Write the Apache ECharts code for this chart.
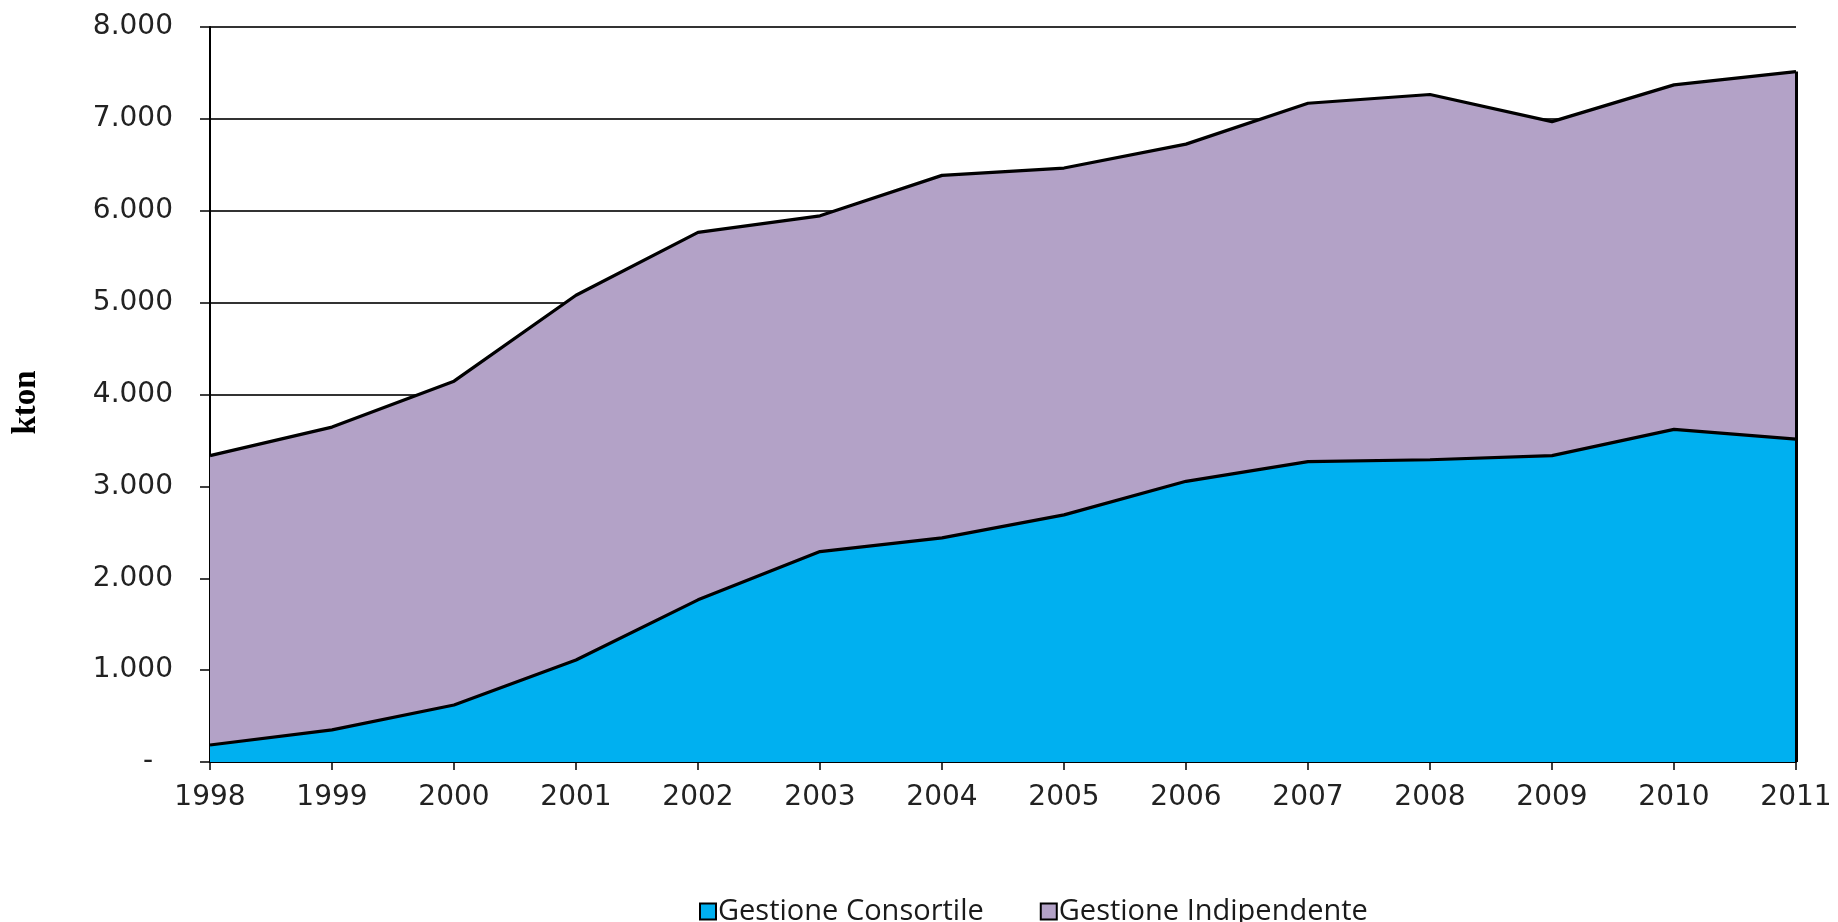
<!DOCTYPE html>
<html>
<head>
<meta charset="utf-8">
<title>Gestione Consortile / Gestione Indipendente</title>
<script src="https://cdn.jsdelivr.net/npm/echarts@6/dist/echarts.min.js"></script>
<style>
  html, body { margin: 0; padding: 0; background: #ffffff; }
  #chart { width: 1838px; height: 922px; }
</style>
</head>
<body>
<div id="chart"></div>
<script>
// Years on the horizontal axis
const years = ['1998', '1999', '2000', '2001', '2002', '2003', '2004', '2005', '2006', '2007', '2008', '2009', '2010', '2011'];

// Quantities in kton, stacked
const consortile = [185, 350, 620, 1110, 1765, 2290, 2440, 2690, 3055, 3270, 3290, 3335, 3620, 3515];
const indipendente = [3150, 3295, 3525, 3970, 4000, 3655, 3945, 3775, 3670, 3900, 3975, 3635, 3750, 4000];

const seriesNames = ['Gestione Consortile', 'Gestione Indipendente'];
const axisName = 'kton';

// Value axis scale
const yMin = 0;
const yMax = 8000;
const yStep = 1000;

// Thousands separated by a dot, zero shown as an indented dash
function fmtThousands(v) {
  if (v === 0) return '{dash|-}';
  return String(v).replace(/\B(?=(\d{3})+(?!\d))/g, '.');
}

const lastIdx = years.length - 1;
const lastTotal = consortile[lastIdx] + indipendente[lastIdx];

const chart = echarts.init(document.getElementById('chart'), null, { renderer: 'canvas' });

chart.setOption({
  animation: false,
  backgroundColor: '#ffffff',
  grid: { left: 210, right: 42, top: 27, bottom: 160, containLabel: false, outerBoundsMode: 'none' },
  legend: {
    data: seriesNames,
    left: 694,
    top: 892,
    itemWidth: 16,
    itemHeight: 16,
    itemGap: 56,
    icon: 'rect',
    textStyle: { fontFamily: 'Open Sans', fontSize: 29, color: '#1a1a1a', padding: [0, 0, 0, -3] }
  },
  xAxis: {
    type: 'category',
    data: years,
    boundaryGap: false,
    axisLine: { show: true, lineStyle: { color: '#000000', width: 2 } },
    axisTick: { show: true, length: 8, lineStyle: { color: '#000000', width: 1.5 } },
    axisLabel: { fontFamily: 'DejaVu Sans', fontSize: 28, color: '#222222', margin: 22 },
    splitLine: { show: false }
  },
  yAxis: {
    type: 'value',
    min: yMin,
    max: yMax,
    interval: yStep,
    name: axisName,
    nameLocation: 'middle',
    nameGap: 167,
    nameRotate: 90,
    nameTextStyle: { fontFamily: 'Liberation Serif', fontWeight: 'bold', fontSize: 33, color: '#000000', padding: [0, 16, 0, 0] },
    axisLine: { show: true, lineStyle: { color: '#000000', width: 2 } },
    axisTick: { show: true, length: 10, lineStyle: { color: '#000000', width: 1.5 } },
    axisLabel: {
      fontFamily: 'DejaVu Sans', fontSize: 28, color: '#222222', margin: 37, formatter: fmtThousands,
      rich: { dash: { fontFamily: 'DejaVu Sans', fontSize: 28, color: '#222222', padding: [0, 20, 0, 0] } }
    },
    splitLine: { show: true, lineStyle: { color: '#333333', width: 2 } }
  },
  series: [
    {
      name: seriesNames[0],
      type: 'line',
      stack: 'totale',
      data: consortile,
      symbol: 'none',
      lineStyle: { color: '#000000', width: 3.2 },
      itemStyle: { color: '#00B0F0', borderColor: '#000000', borderWidth: 2 },
      areaStyle: { color: '#00B0F0', opacity: 1 },
      z: 3
    },
    {
      name: seriesNames[1],
      type: 'line',
      stack: 'totale',
      data: indipendente,
      symbol: 'none',
      lineStyle: { color: '#000000', width: 3.2 },
      itemStyle: { color: '#B3A2C7', borderColor: '#000000', borderWidth: 2 },
      areaStyle: { color: '#B3A2C7', opacity: 1 },
      z: 2,
      // Closing edge of the stacked area at the last year
      markLine: {
        silent: true,
        symbol: 'none',
        label: { show: false },
        lineStyle: { color: '#000000', width: 3, type: 'solid' },
        data: [[
          { coord: [years[lastIdx], 0] },
          { coord: [years[lastIdx], lastTotal] }
        ]]
      }
    }
  ]
});
</script>
</body>
</html>
